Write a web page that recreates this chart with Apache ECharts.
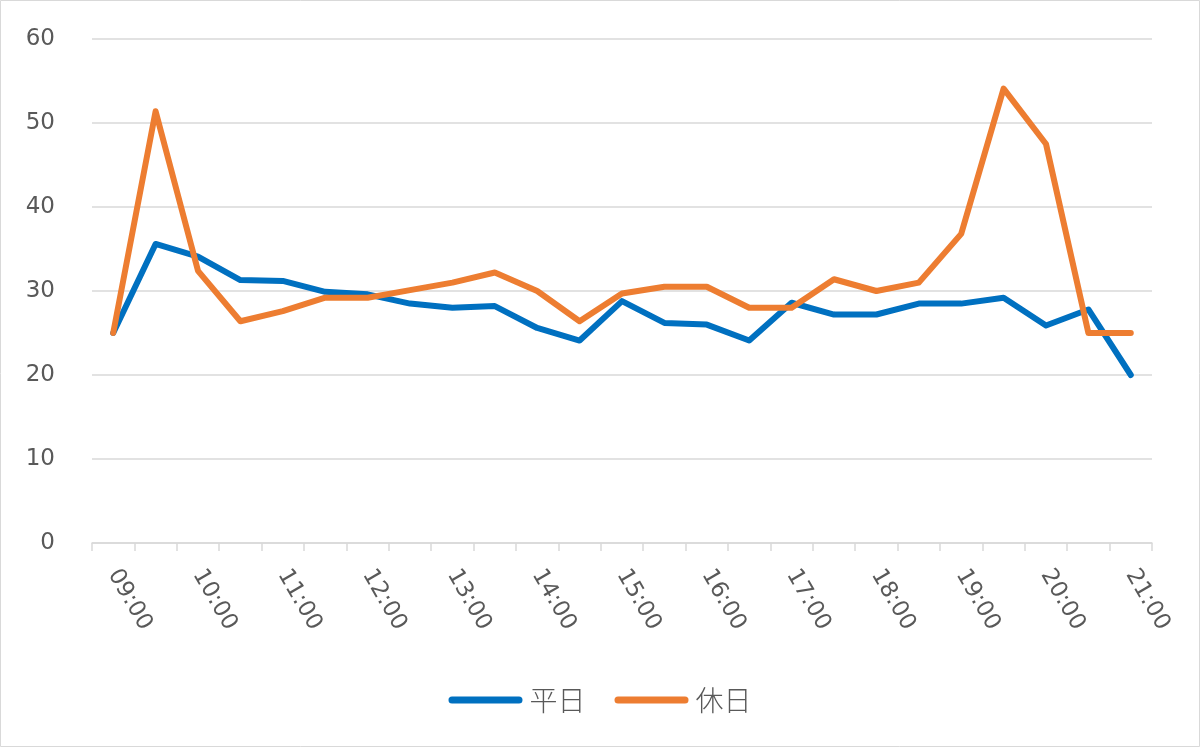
<!DOCTYPE html>
<html>
<head>
<meta charset="utf-8">
<script src="https://cdn.jsdelivr.net/npm/echarts@6/dist/echarts.min.js"></script>
<style>
html,body{margin:0;padding:0;background:#fff;}
#c{width:1200px;height:747px;}
</style>
</head>
<body>
<div id="c"></div>
<script>
const categories = ["09:00","09:30","10:00","10:30","11:00","11:30","12:00","12:30","13:00","13:30","14:00","14:30","15:00","15:30","16:00","16:30","17:00","17:30","18:00","18:30","19:00","19:30","20:00","20:30","21:00"];
const weekday = [25.0,35.6,34.1,31.3,31.2,29.9,29.6,28.5,28.0,28.2,25.6,24.1,28.8,26.2,26.0,24.1,28.6,27.2,27.2,28.5,28.5,29.2,25.9,27.8,20.0];
const holiday = [25.0,51.4,32.4,26.4,27.6,29.2,29.2,30.1,31.0,32.2,30.0,26.4,29.7,30.5,30.5,28.0,28.0,31.4,30.0,31.0,36.8,54.1,47.5,25.0,25.0];
const seriesNames = ["平日","休日"];
const yTicks = {min:0, max:60, interval:10};

const chart = echarts.init(document.getElementById('c'));
const numFont = '"DejaVu Sans", sans-serif';
const cjkFont = '"Noto Sans CJK JP", sans-serif';
const capsule = 'path://M3.5,0 L70.5,0 A3.5,3.5 0 0 1 70.5,7 L3.5,7 A3.5,3.5 0 0 1 3.5,0 Z';
chart.setOption({
  animation:false,
  backgroundColor:'#fff',
  graphic:[{type:'rect',shape:{x:0.5,y:0.5,width:1199,height:746},style:{fill:'none',stroke:'#d9d9d9',lineWidth:1},silent:true}],
  grid:{left:92,right:48,top:39,bottom:204,containLabel:false},
  legend:{
    data:seriesNames,
    top:681,
    left:'center',
    itemWidth:74,itemHeight:7,itemGap:29,
    icon:capsule,
    textStyle:{color:'#595959',fontSize:28,lineHeight:28,fontWeight:300,fontFamily:cjkFont,padding:[0,0,0,2]}
  },
  xAxis:{
    type:'category',
    data:categories,
    boundaryGap:true,
    axisLine:{lineStyle:{color:'#d9d9d9',width:1.5}},
    axisTick:{show:true,interval:0,length:8,lineStyle:{color:'#d9d9d9',width:1.5}},
    axisLabel:{interval:1,rotate:-60,margin:28,color:'#595959',fontSize:23,fontFamily:numFont}
  },
  yAxis:{
    type:'value',
    min:yTicks.min,max:yTicks.max,interval:yTicks.interval,
    axisLine:{show:false},axisTick:{show:false},
    splitLine:{lineStyle:{color:'#d9d9d9',width:1.5}},
    axisLabel:{margin:37,color:'#595959',fontSize:23,fontFamily:numFont}
  },
  series:[
    {name:seriesNames[0],type:'line',data:weekday,symbol:'none',color:'#0070C0',
     lineStyle:{width:6,color:'#0070C0',cap:'round',join:'round'}},
    {name:seriesNames[1],type:'line',data:holiday,symbol:'none',color:'#ED7D31',
     lineStyle:{width:6,color:'#ED7D31',cap:'round',join:'round'}}
  ]
});
</script>
</body>
</html>
